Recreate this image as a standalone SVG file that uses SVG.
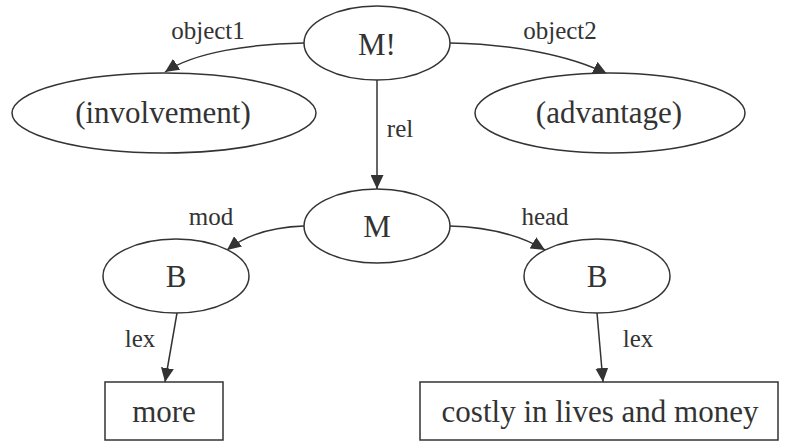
<svg xmlns="http://www.w3.org/2000/svg" width="785" height="442" viewBox="0 0 785 442">
<defs>
<style>
.n{fill:#fff;stroke:#333;stroke-width:1.5}
.t{font-family:"Liberation Serif","Times New Roman",serif;font-size:31px;fill:#333;text-anchor:middle}
.l{font-family:"Liberation Serif","Times New Roman",serif;font-size:25px;fill:#333;text-anchor:middle}
.e{fill:none;stroke:#333;stroke-width:1.5;marker-end:url(#ah)}
</style>
<marker id="ah" markerUnits="userSpaceOnUse" markerWidth="14" markerHeight="13" viewBox="0 0 14 13" refX="14" refY="6.5" orient="auto">
<path d="M0,0 L14,6.5 L0,13 z" fill="#333"/>
</marker>
</defs>
<g id="edges">
<path class="e" d="M 304 43 C 250 44, 195 52, 165 72"/>
<path class="e" d="M 450 43 C 510 44, 570 55, 607 74"/>
<path class="e" d="M 377 80 L 377 189"/>
<path class="e" d="M 304 226 C 270 227, 245 236, 227 250"/>
<path class="e" d="M 449 226 C 490 227, 520 235, 545 250"/>
<path class="e" d="M 177 313 L 165 382"/>
<path class="e" d="M 597 313 L 603 382"/>
<text class="l" x="208" y="39">object1</text>
<text class="l" x="560" y="39">object2</text>
<text class="l" x="400" y="137">rel</text>
<text class="l" x="211" y="225">mod</text>
<text class="l" x="545" y="225">head</text>
<text class="l" x="140" y="347">lex</text>
<text class="l" x="638" y="347">lex</text>
</g>
<g id="Mbang"><ellipse class="n" cx="377" cy="43" rx="73" ry="37"/><text class="t" x="377" y="55">M!</text></g>
<g id="involvement"><ellipse class="n" cx="164" cy="113" rx="152" ry="40"/><text class="t" x="163" y="123">(involvement)</text></g>
<g id="advantage"><ellipse class="n" cx="610" cy="113" rx="135" ry="40"/><text class="t" x="609" y="123">(advantage)</text></g>
<g id="M"><ellipse class="n" cx="377" cy="226" rx="73" ry="37"/><text class="t" x="377" y="237">M</text></g>
<g id="B1"><ellipse class="n" cx="176" cy="276" rx="73" ry="37"/><text class="t" x="176" y="287">B</text></g>
<g id="B2"><ellipse class="n" cx="597" cy="276" rx="73" ry="37"/><text class="t" x="597" y="287">B</text></g>
<g id="more"><rect class="n" x="105" y="382" width="118" height="58"/><text class="t" x="164" y="422">more</text></g>
<g id="costly"><rect class="n" x="420" y="382" width="358" height="58"/><text class="t" x="600" y="422">costly in lives and money</text></g>
</svg>
